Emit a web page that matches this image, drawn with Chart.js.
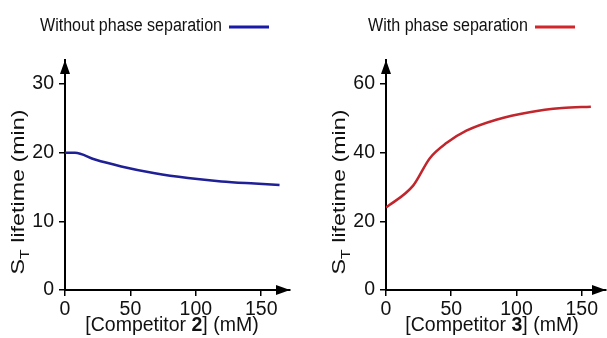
<!DOCTYPE html>
<html>
<head>
<meta charset="utf-8">
<script src="https://cdn.jsdelivr.net/npm/chart.js@4"></script>
<style>
  html, body { margin: 0; padding: 0; background: #fff; }
  #wrap { position: relative; width: 607px; height: 338px; overflow: hidden; }
  #c2 { position: absolute; left: 0; top: 0; }
  #c3 { position: absolute; left: 300px; top: 0; }
</style>
</head>
<body>
<div id="wrap">
  <canvas id="c2" width="300" height="338"></canvas>
  <canvas id="c3" width="307" height="338"></canvas>
</div>
<script>
// without phase separation (competitor 2)
const comp2 = [0, 7.6, 22.9, 43, 68.7, 94, 119.6, 145, 164];
const life2 = [20, 20, 19.0, 18.0, 17.0, 16.3, 15.8, 15.5, 15.3];
// with phase separation (competitor 3)
const comp3 = [0, 20.8, 33.6, 46.3, 61.6, 84.5, 110, 135, 157];
const life3 = [24.0, 30.4, 38.4, 42.8, 46.4, 49.6, 51.8, 53.0, 53.4];

const xTicks = [0, 50, 100, 150];
const yTicks2 = [0, 10, 20, 30];
const yTicks3 = [0, 20, 40, 60];

const FONT = "'Liberation Sans', Arial, Helvetica, sans-serif";

// arrows, titles and legend drawn on top
const decor = {
  id: "decor",
  afterDraw(chart, args, o) {
    const ctx = chart.ctx;
    const a = chart.chartArea;
    const x0 = chart.scales.x.getPixelForValue(0);
    const y0 = chart.scales.y.getPixelForValue(0);
    ctx.save();
    ctx.fillStyle = "#000";
    // y arrow
    ctx.beginPath();
    ctx.moveTo(x0, a.top);
    ctx.lineTo(x0 - 5, a.top + 14);
    ctx.lineTo(x0 + 5, a.top + 14);
    ctx.closePath();
    ctx.fill();
    // x arrow
    ctx.beginPath();
    ctx.moveTo(a.right, y0);
    ctx.lineTo(a.right - 14, y0 - 5);
    ctx.lineTo(a.right - 14, y0 + 5);
    ctx.closePath();
    ctx.fill();

    ctx.fillStyle = "#111";
    ctx.textBaseline = "alphabetic";
    // x title with bold number
    const fs = "19.5px " + FONT, fb = "bold 19.5px " + FONT;
    const p1 = "[Competitor ", p3 = "] (mM)";
    ctx.font = fs;
    const w1 = ctx.measureText(p1).width, w3 = ctx.measureText(p3).width;
    ctx.font = fb;
    const w2 = ctx.measureText(o.num).width;
    let tx = o.xTitleX - (w1 + w2 + w3) / 2;
    ctx.textAlign = "left";
    ctx.font = fs;
    ctx.fillText(p1, tx, 331);
    ctx.font = fb;
    ctx.fillText(o.num, tx + w1, 331);
    ctx.font = fs;
    ctx.fillText(p3, tx + w1 + w2, 331);

    // y title, rotated, with subscript T
    ctx.save();
    ctx.translate(o.yTitleX, 192);
    ctx.rotate(-Math.PI / 2);
    const big = "19px " + FONT, small = "13px " + FONT;
    ctx.font = big;
    const sW = ctx.measureText("S").width;
    ctx.font = small;
    const tW = ctx.measureText("T").width;
    ctx.font = big;
    const rest = " lifetime (min)";
    const rW = ctx.measureText(rest).width;
    const tot = sW + tW + rW;
    ctx.scale(165 / tot, 1);
    let sx = -tot / 2;
    ctx.fillText("S", sx, 0);
    ctx.font = small;
    ctx.fillText("T", sx + sW, 5);
    ctx.font = big;
    ctx.fillText(rest, sx + sW + tW, 0);
    ctx.restore();

    // legend: text then coloured line
    ctx.save();
    ctx.font = "18px " + FONT;
    ctx.textBaseline = "middle";
    const lw = ctx.measureText(o.legend).width;
    const k = o.legendW / lw;
    ctx.translate(o.legendX, 26);
    ctx.scale(k, 1);
    ctx.fillText(o.legend, 0, 0);
    ctx.restore();
    ctx.strokeStyle = o.color;
    ctx.lineWidth = 3;
    ctx.beginPath();
    ctx.moveTo(o.legendX + o.legendW + 7, 27);
    ctx.lineTo(o.legendX + o.legendW + 47, 27);
    ctx.stroke();
    ctx.restore();
  }
};

function makeChart(id, xs, ys, yTicks, yMax, xMax, color, yWidth, padRight, opts) {
  return new Chart(document.getElementById(id), {
    type: "line",
    data: {
      datasets: [{
        data: xs.map((x, i) => ({ x: x, y: ys[i] })),
        borderColor: color,
        borderWidth: 2.5,
        pointRadius: 0,
        cubicInterpolationMode: "monotone",
        fill: false
      }]
    },
    options: {
      responsive: false,
      animation: false,
      layout: { padding: { left: 0, right: padRight, top: 60, bottom: 0 } },
      plugins: { legend: { display: false }, tooltip: { enabled: false }, decor: opts },
      scales: {
        x: {
          type: "linear",
          min: 0,
          max: xMax,
          afterBuildTicks: (s) => { s.ticks = xTicks.map(v => ({ value: v })); },
          afterFit: (s) => { s.height = 48; },
          grid: { drawOnChartArea: false, drawTicks: true, tickLength: 6, color: "#000", lineWidth: 1.5 },
          border: { display: true, color: "#000", width: 2 },
          ticks: { color: "#111", font: { family: FONT, size: 19.5 }, padding: 2, maxRotation: 0 }
        },
        y: {
          min: 0,
          max: yMax,
          afterBuildTicks: (s) => { s.ticks = yTicks.map(v => ({ value: v })); },
          afterFit: (s) => { s.width = yWidth; },
          grid: { drawOnChartArea: false, drawTicks: true, tickLength: 6, color: "#000", lineWidth: 1.5 },
          border: { display: true, color: "#000", width: 2 },
          ticks: { color: "#111", font: { family: FONT, size: 19.5 }, padding: 5 }
        }
      }
    },
    plugins: [decor]
  });
}

makeChart("c2", comp2, life2, yTicks2, 33.5, 172, "#1f1f96", 65, 10,
  { num: "2", xTitleX: 172, yTitleX: 24, legend: "Without phase separation", legendX: 40, legendW: 182, color: "#1a1aa8" });
makeChart("c3", comp3, life3, yTicks3, 67, 168.6, "#c0262c", 86, 1,
  { num: "3", xTitleX: 192, yTitleX: 45, legend: "With phase separation", legendX: 68, legendW: 160, color: "#d0262c" });
</script>
</body>
</html>
